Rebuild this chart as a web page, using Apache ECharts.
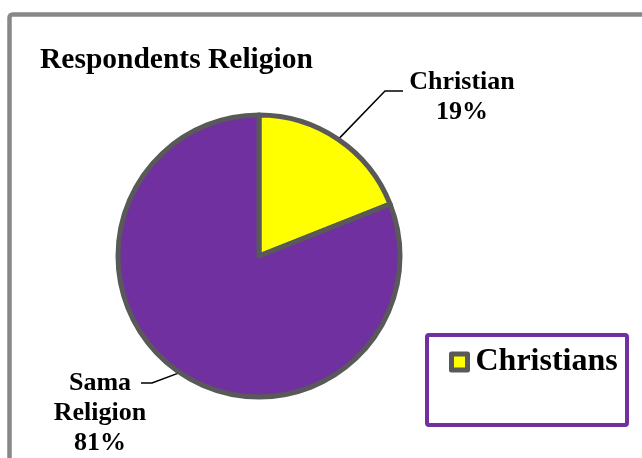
<!DOCTYPE html>
<html>
<head>
<meta charset="utf-8" />
<title>Respondents Religion</title>
<script src="https://cdn.jsdelivr.net/npm/echarts@6/dist/echarts.min.js"></script>
<style>
  html, body { margin: 0; padding: 0; background: #fff; }
  #chart { width: 642px; height: 458px; }
</style>
</head>
<body>
<div id="chart"></div>
<script>
// data
var categories = ['Christians', 'Sama Religion'];
var values = [19, 81];
var labelNames = ['Christian', 'Sama\nReligion'];
var colors = ['#ffff00', '#7030a0'];
var legendItems = ['Christians'];

var serif = "'Liberation Serif', 'Times New Roman', serif";

// where each label block sits, and the bend of its leader line
var labelPlaces = [
  { x: 462, y: 97, bend: [385, 91], end: [403, 91] },
  { x: 100, y: 413, bend: [152, 383], end: [141, 383] }
];

var chart = echarts.init(document.getElementById('chart'));

var pieData = categories.map(function (c, i) {
  return { name: c, value: values[i], itemStyle: { color: colors[i] } };
});

var option = {
  animation: false,
  title: {
    text: 'Respondents Religion',
    left: 40,
    top: 45,
    padding: 0,
    textStyle: { fontFamily: serif, fontWeight: 'bold', fontSize: 29.5, color: '#000' }
  },
  legend: {
    data: legendItems,
    left: 449,
    top: 346,
    padding: 0,
    icon: 'rect',
    itemWidth: 16,
    itemHeight: 16,
    itemGap: 0,
    itemStyle: { borderColor: '#595959', borderWidth: 5 },
    textStyle: { fontFamily: serif, fontWeight: 'bold', fontSize: 32, color: '#000', padding: [0, 0, 0, 3] }
  },
  graphic: [
    {
      type: 'rect',
      shape: { x: 9.5, y: 14.5, width: 700, height: 500, r: 3 },
      style: { fill: 'none', stroke: '#888888', lineWidth: 4.5 },
      silent: true
    },
    {
      type: 'rect',
      shape: { x: 427, y: 335, width: 200, height: 90, r: 2 },
      style: { fill: 'none', stroke: '#7030a0', lineWidth: 4 },
      silent: true
    }
  ],
  series: [{
    type: 'pie',
    center: [259, 256],
    radius: 141,
    startAngle: 90,
    clockwise: true,
    data: pieData,
    itemStyle: { borderColor: '#595959', borderWidth: 5 },
    emphasis: { disabled: true },
    label: {
      show: true,
      fontFamily: serif,
      fontWeight: 'bold',
      fontSize: 26,
      lineHeight: 30,
      color: '#000',
      align: 'center',
      formatter: function (p) {
        return labelNames[p.dataIndex] + '\n' + p.value + '%';
      }
    },
    labelLine: {
      show: true,
      lineStyle: { color: '#000', width: 1.5 }
    },
    labelLayout: function (params) {
      var place = labelPlaces[params.dataIndex];
      var start = params.labelLinePoints ? params.labelLinePoints[0] : place.bend;
      return {
        x: place.x,
        y: place.y,
        align: 'center',
        verticalAlign: 'middle',
        labelLinePoints: [start, place.bend, place.end]
      };
    }
  }]
};

chart.setOption(option);
</script>
</body>
</html>
